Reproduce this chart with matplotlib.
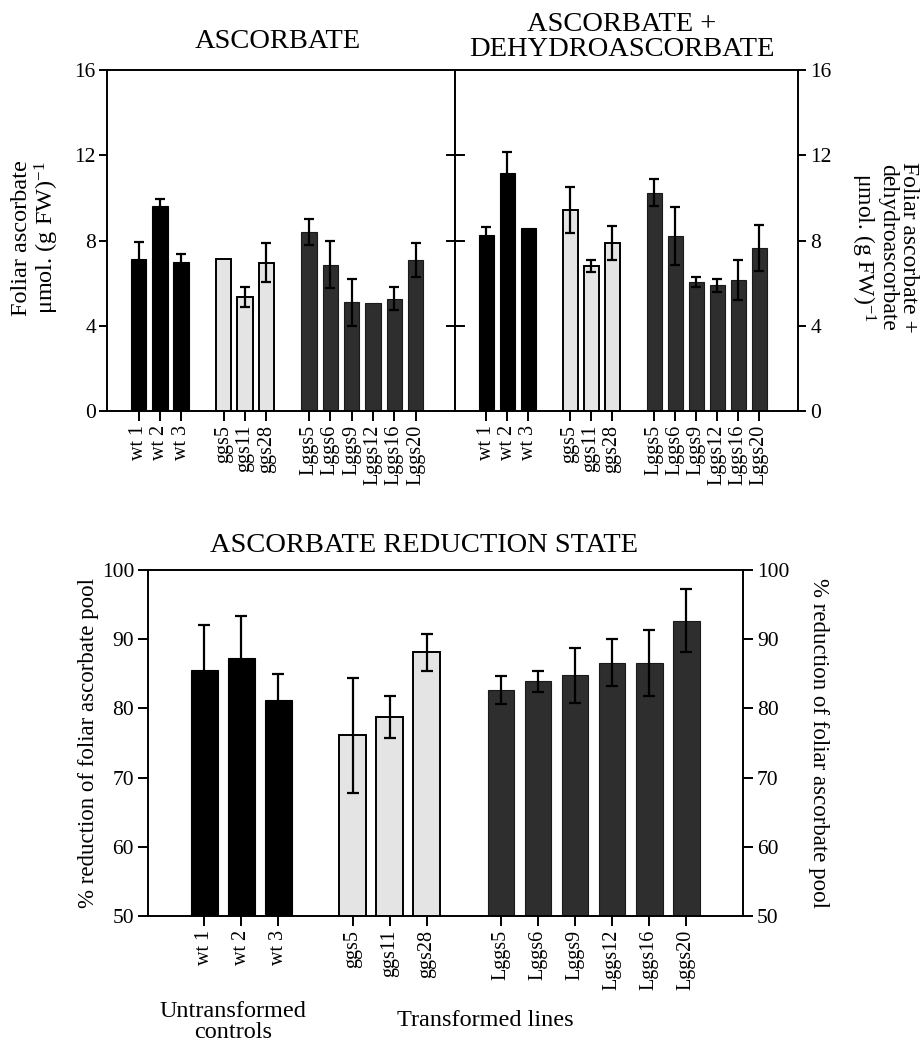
import matplotlib
matplotlib.use('Agg')
import matplotlib.pyplot as plt
import numpy as np

plt.rcParams['font.family'] = ['Liberation Serif', 'DejaVu Serif']
plt.rcParams['mathtext.fontset'] = 'custom'
plt.rcParams['mathtext.rm'] = 'Liberation Serif'
plt.rcParams['mathtext.it'] = 'Liberation Serif:italic'

# ---------------- data ----------------
lines = ['wt 1', 'wt 2', 'wt 3', 'ggs5', 'ggs11', 'ggs28',
         'Lggs5', 'Lggs6', 'Lggs9', 'Lggs12', 'Lggs16', 'Lggs20']
groups = ['wt', 'wt', 'wt', 'ggs', 'ggs', 'ggs',
          'Lggs', 'Lggs', 'Lggs', 'Lggs', 'Lggs', 'Lggs']

ascorbate = [7.13, 9.64, 6.98, 7.12, 5.35, 6.96, 8.40, 6.87, 5.10, 5.08, 5.27, 7.10]
ascorbate_err = [0.80, 0.30, 0.40, 0.0, 0.45, 0.90, 0.60, 1.10, 1.10, 0.0, 0.53, 0.80]

total = [8.28, 11.18, 8.60, 9.43, 6.80, 7.90, 10.24, 8.22, 6.05, 5.90, 6.15, 7.65]
total_err = [0.36, 0.95, 0.0, 1.10, 0.30, 0.80, 0.63, 1.36, 0.24, 0.30, 0.95, 1.10]

reduction = [85.6, 87.3, 81.2, 76.1, 78.75, 88.1, 82.7, 83.9, 84.8, 86.6, 86.6, 92.7]
reduction_err = [6.5, 6.0, 3.7, 8.3, 3.0, 2.7, 2.0, 1.5, 4.0, 3.4, 4.8, 4.6]

top_ticks = [0, 4, 8, 12, 16]
bottom_ticks = [50, 60, 70, 80, 90, 100]

# ---------------- styles ----------------
face = {'wt': '#000000', 'ggs': '#e4e4e4', 'Lggs': '#2e2e2e'}
edge = {'wt': '#000000', 'ggs': '#000000', 'Lggs': '#1a1a1a'}

# x positions: one empty slot between groups
order = ['wt', 'ggs', 'Lggs']
pos = np.array([i + order.index(g) for i, g in enumerate(groups)], dtype=float)

W, H = 924, 1048
fig = plt.figure(figsize=(W / 100, H / 100), dpi=100)


def rect(x0, y0, x1, y1):
    return [x0 / W, 1 - y1 / H, (x1 - x0) / W, (y1 - y0) / H]


def fx(x, y):
    return x / W, 1 - y / H


def draw_bars(ax, vals, errs, capsize, elw):
    for p, v, e, g in zip(pos, vals, errs, groups):
        ax.bar(p, v, width=0.72, color=face[g], edgecolor=edge[g],
               linewidth=1.4 if g == 'ggs' else 0.8, zorder=2)
        if e > 0:
            ax.errorbar(p, v, yerr=e, fmt='none', ecolor='black',
                        elinewidth=elw, capsize=capsize, capthick=elw, zorder=3)


ax1 = fig.add_axes(rect(107, 70, 455, 411))
ax2 = fig.add_axes(rect(455, 70, 798, 411))
ax3 = fig.add_axes(rect(148, 570, 743, 916))

draw_bars(ax1, ascorbate, ascorbate_err, 3.8, 1.6)
draw_bars(ax2, total, total_err, 3.8, 1.6)
draw_bars(ax3, reduction, reduction_err, 4.4, 1.6)

for ax in (ax1, ax2, ax3):
    for s in ax.spines.values():
        s.set_linewidth(1.4)
    ax.set_xticks(pos)
    ax.set_xticklabels(lines, rotation=90, fontsize=14.5)
    ax.tick_params(axis='x', direction='out', length=7, width=1.4, pad=3)

XL = (-1.48, 14.85)
for ax in (ax1, ax2):
    ax.set_xlim(*XL)
    ax.set_ylim(0, 16)
    ax.set_yticks(top_ticks)

ax1.tick_params(axis='y', direction='out', length=6, width=1.4, labelsize=15.5, pad=2)
ax1.set_yticklabels([str(t) for t in top_ticks])

ax2.yaxis.set_ticks_position('right')
ax2.tick_params(axis='y', which='both', left=False, right=True,
                labelleft=False, labelright=True, labelsize=15.5, width=1.4,
                direction='out', length=6, pad=3)
ax2.set_yticklabels([str(t) for t in top_ticks])
# crossing ticks on the shared divider
for t in top_ticks[1:-1]:
    ax2.plot([XL[0] - 0.38, XL[0] + 0.42], [t, t], color='black', lw=1.4,
             clip_on=False, zorder=5)

ax3.set_xlim(-1.52, 14.53)
ax3.set_ylim(50, 100)
ax3.set_yticks(bottom_ticks)
ax3.yaxis.set_ticks_position('both')
ax3.tick_params(axis='y', which='both', left=True, right=True,
                labelleft=True, labelright=True, labelsize=15.5,
                direction='out', length=7, width=1.4, pad=3)

# ---------------- texts ----------------
fig.text(*fx(278, 42), 'ASCORBATE', ha='center', va='center', fontsize=20.5)
fig.text(*fx(622, 37), 'ASCORBATE +\nDEHYDROASCORBATE', ha='center', va='center',
         fontsize=20.5, linespacing=0.95)
fig.text(*fx(424, 545), 'ASCORBATE REDUCTION STATE', ha='center', va='center',
         fontsize=20.5)

fig.text(*fx(36, 238), 'Foliar ascorbate\n\u03bcmol. (g FW)$^{-1}$', rotation=90,
         ha='center', va='center', fontsize=17.5, linespacing=1.0)
fig.text(*fx(884, 247), 'Foliar ascorbate +\ndehydroascorbate\n\u03bcmol. (g FW)$^{-1}$',
         rotation=270, ha='center', va='center', fontsize=17, linespacing=1.0)

fig.text(*fx(89, 743), '% reduction of foliar ascorbate pool', rotation=90,
         ha='center', va='center', fontsize=16.5)
fig.text(*fx(819, 743), '% reduction of foliar ascorbate pool', rotation=270,
         ha='center', va='center', fontsize=16.5)

fig.text(*fx(233, 1022), 'Untransformed\ncontrols', ha='center', va='center',
         fontsize=17.5, linespacing=1.05)
fig.text(*fx(485, 1021), 'Transformed lines', ha='center', va='center', fontsize=17.5)

fig.savefig('out.png', dpi=100)
